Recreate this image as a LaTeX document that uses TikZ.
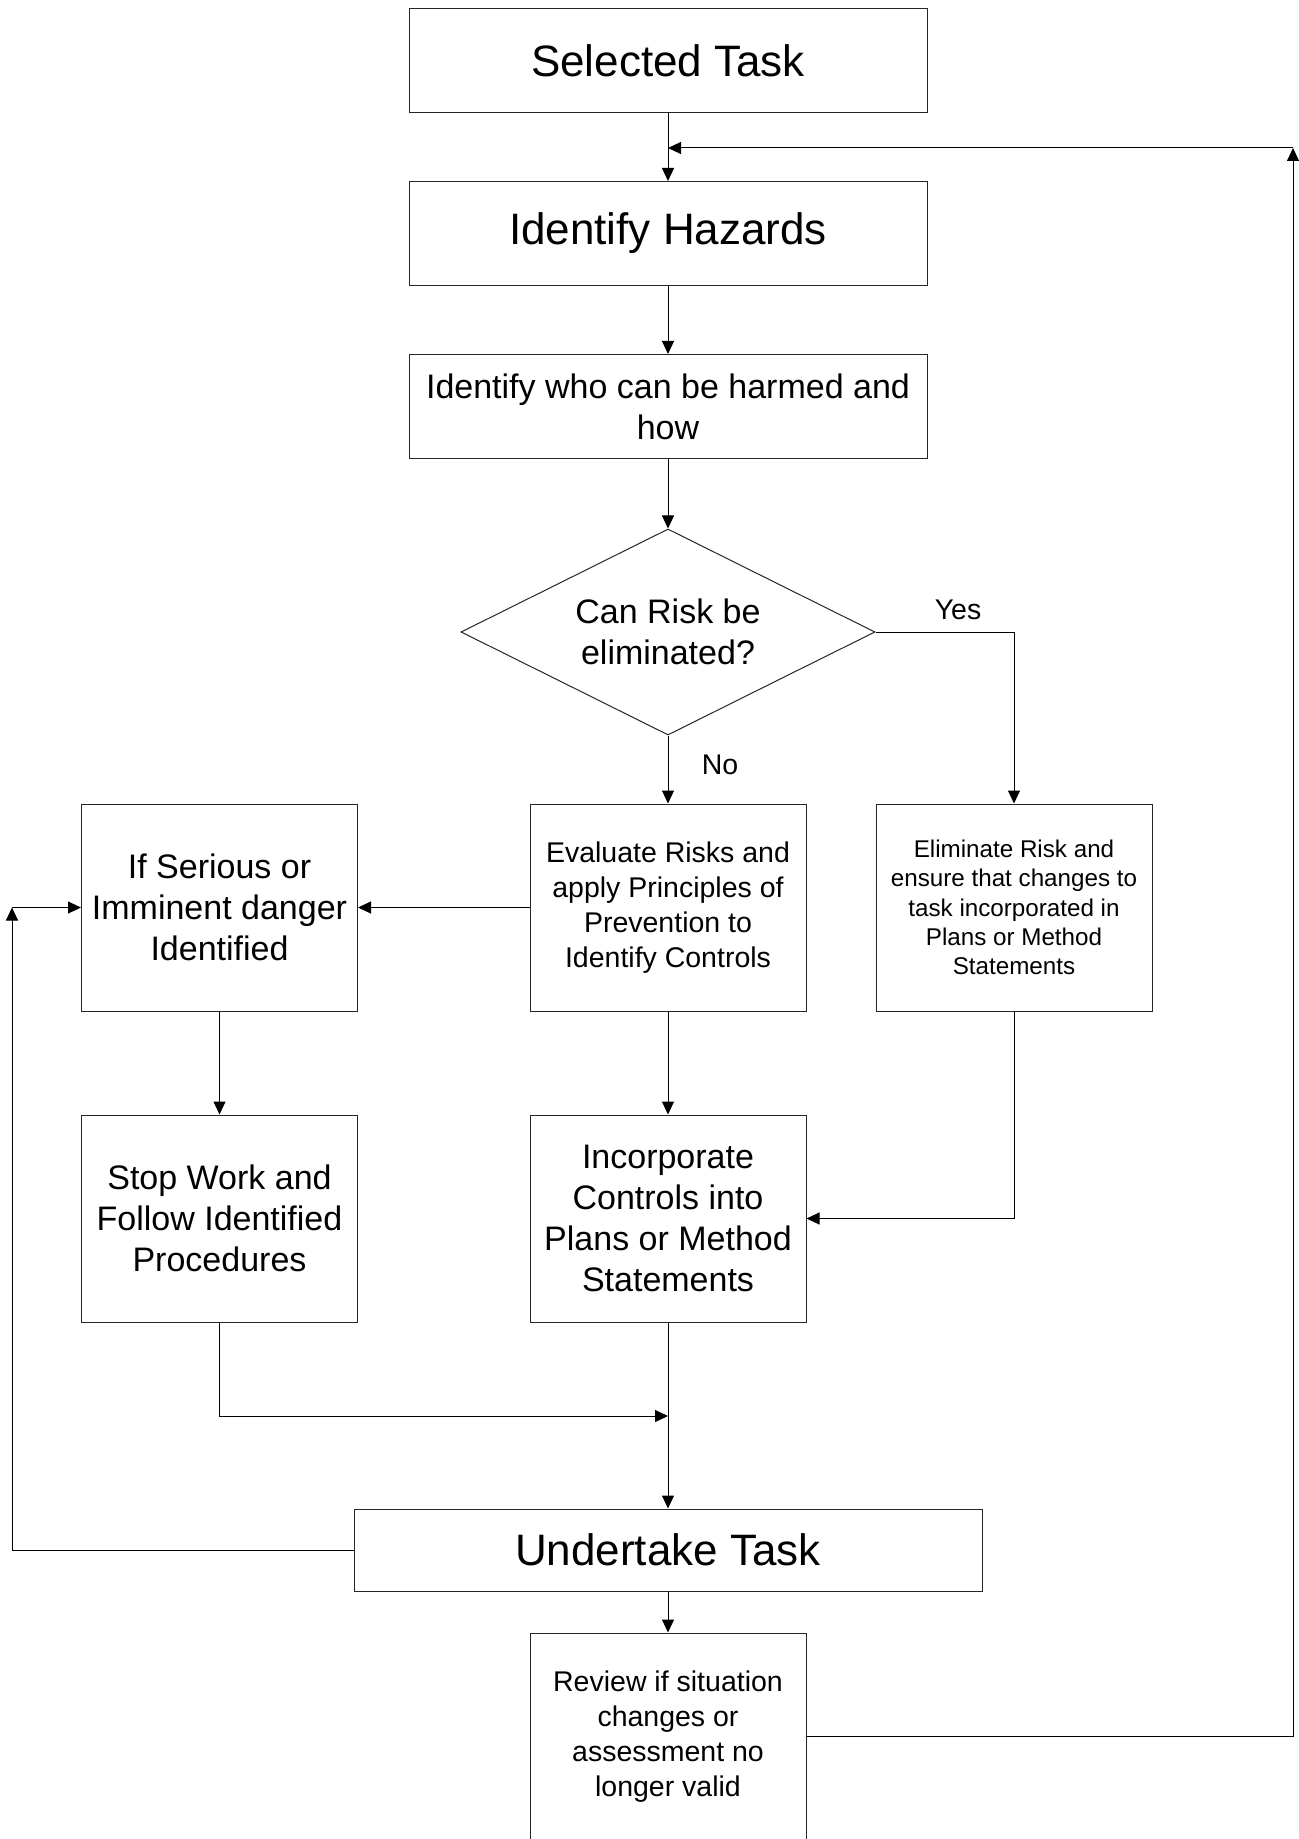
\documentclass[tikz,border=0pt]{standalone}
\usepackage{fontspec}
\setmainfont{Liberation Sans}
\usetikzlibrary{shapes.geometric,arrows.meta}
\begin{document}
\begin{tikzpicture}[x=0.5pt,y=-0.5pt,
  base/.style={draw=black!85, line width=0.5pt, align=center, inner sep=0pt},
  widebox/.style={base, minimum width=259pt, minimum height=52pt},
  tallbox/.style={base, minimum width=138pt, minimum height=103.5pt},
  fbig/.style={font=\fontsize{22}{26.4}\selectfont},
  fmid/.style={font=\fontsize{17}{20.4}\selectfont},
  fsmall/.style={font=\fontsize{14.25}{17.5}\selectfont},
  ftiny/.style={font=\fontsize{12.1}{14.65}\selectfont},
  decision/.style={base, diamond, aspect=2, minimum width=207pt, minimum height=103pt},
  conn/.style={draw=black, line width=0.5pt},
  arr/.style={conn, -{Triangle[length=6.5pt,width=6pt]}},
  lbl/.style={inner sep=0pt, font=\fontsize{14.25}{17.5}\selectfont}
]
\useasboundingbox (0,0) rectangle (1299,1839);

\node[widebox, fbig] (sel) at (668,61) {Selected Task};
\node[widebox, fbig] (haz) at (668,233.5) {Identify Hazards};
\node[widebox, fmid] (who) at (668,406.5) {Identify who can be harmed and\\how};
\node[decision, fmid] (dia) at (668,632) {Can Risk be\\eliminated?};
\node[tallbox, fsmall] (eval) at (668,907.5) {Evaluate Risks and\\apply Principles of\\Prevention to\\Identify Controls};
\node[tallbox, fmid] (serious) at (219.5,907.5) {If Serious or\\Imminent danger\\Identified};
\node[tallbox, ftiny] (elim) at (1014,907.5) {Eliminate Risk and\\ensure that changes to\\task incorporated in\\Plans or Method\\Statements};
\node[tallbox, fmid] (stop) at (219.5,1218.5) {Stop Work and\\Follow Identified\\Procedures};
\node[tallbox, fmid] (inc) at (668,1218.5) {Incorporate\\Controls into\\Plans or Method\\Statements};
\node[base, fbig, minimum width=314pt, minimum height=41pt] (und) at (668,1550) {Undertake Task};
\node[tallbox, fsmall] (rev) at (668,1736.5) {Review if situation\\changes or\\assessment no\\longer valid};

\node[lbl] (yes) at (958,610) {Yes};
\node[lbl] (no) at (720,765) {No};

\coordinate (j1) at (668,1416);
\coordinate (rc) at (1293,148);
\coordinate (rj) at (668,148);
\coordinate (lc) at (12,907.5);

\draw[arr] (sel) -- (haz);
\draw[arr] (haz) -- (who);
\draw[arr] (who) -- (dia);
\draw[arr] (dia.south) -- (eval);
\draw[arr] (dia.east) -| (elim.north);
\draw[arr] (eval) -- (serious);
\draw[arr] (serious) -- (stop);
\draw[arr] (eval) -- (inc);
\draw[arr] (elim.south) |- (inc.east);
\draw[arr] (stop.south) |- (j1);
\draw[arr] (inc) -- (und);
\draw[arr] (und) -- (rev);
\draw[arr] (rev.east) -| (rc);
\draw[arr] (rc) -- (rj);
\draw[arr] (und.west) -| (lc);
\draw[arr] (lc) -- (serious.west);
\end{tikzpicture}
\end{document}
